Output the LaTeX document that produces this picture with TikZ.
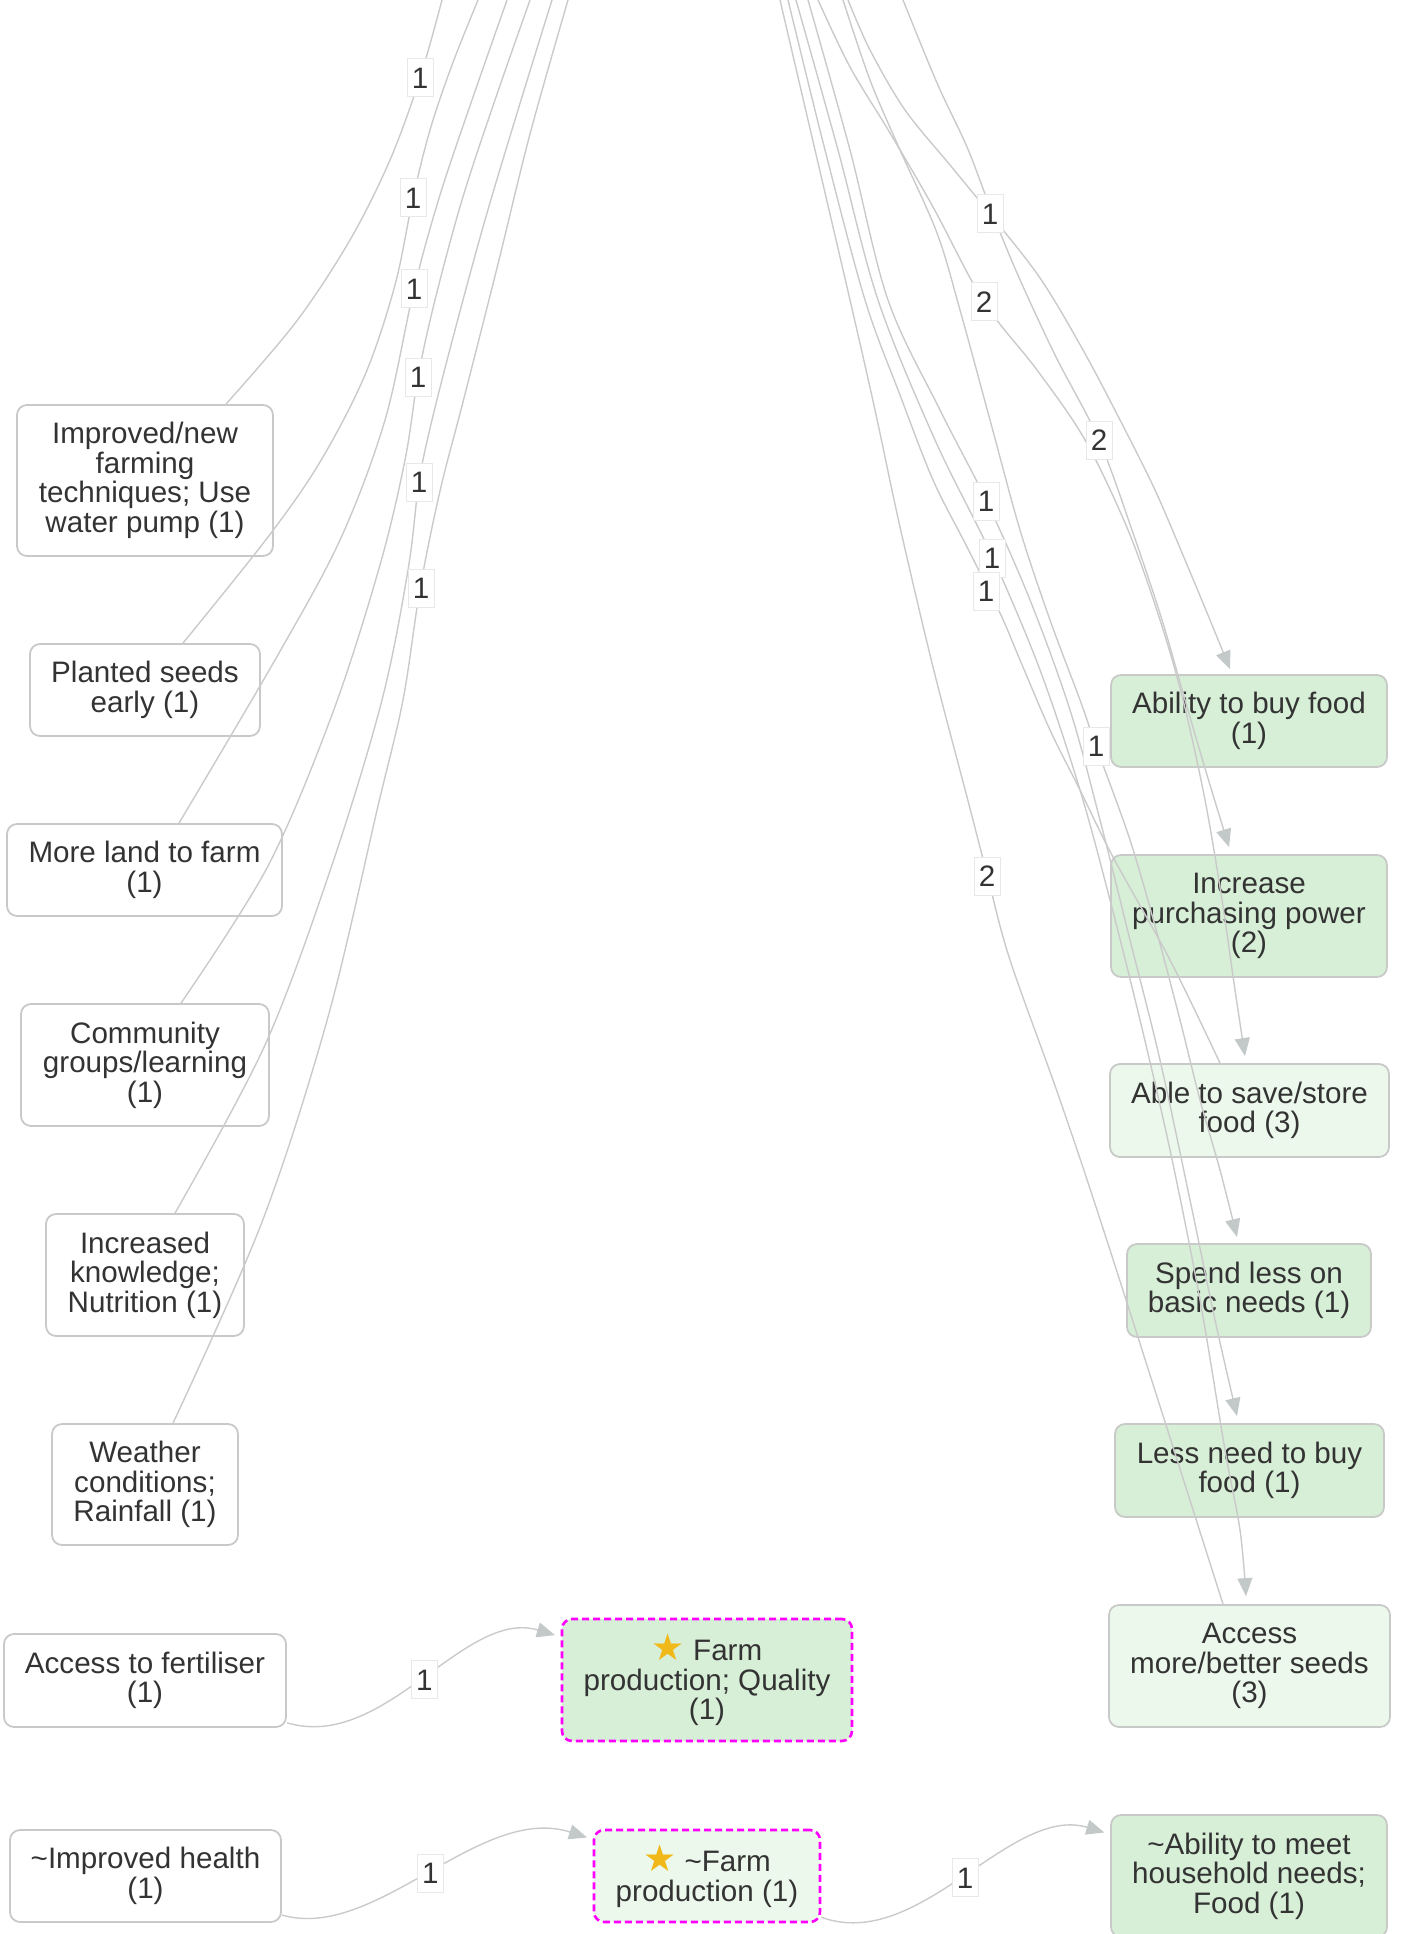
\documentclass[tikz,border=0pt]{standalone}
\usepackage{fontspec}
\setmainfont{Liberation Sans}
\newfontfamily\symfont{DejaVu Sans}
\usetikzlibrary{arrows.meta}
\definecolor{textcol}{RGB}{51,51,51}
\definecolor{boxborder}{RGB}{200,202,200}
\definecolor{greenfill}{RGB}{215,238,215}
\definecolor{lightfill}{RGB}{236,248,236}
\definecolor{edgecol}{RGB}{202,202,202}
\definecolor{arrowcol}{RGB}{195,200,200}
\definecolor{lblborder}{RGB}{232,232,232}
\definecolor{focuscol}{RGB}{255,0,255}
\definecolor{starcol}{RGB}{240,185,25}
\newcommand{\staricon}{{\symfont\fontsize{37pt}{29.6pt}\selectfont\color{starcol}★}}
\begin{document}
\begin{tikzpicture}[x=1pt,y=-1pt,
  basebox/.style={draw=boxborder, line width=1.8pt, rounded corners=10pt, align=center,
    text=textcol, font=\fontsize{29.6pt}{29.6pt}\selectfont, inner sep=0pt},
  plainbox/.style={basebox, fill=white},
  greenbox/.style={basebox, fill=greenfill},
  lightbox/.style={basebox, fill=lightfill},
  focusbox/.style={draw=focuscol, line width=2.6pt, dash pattern=on 7pt off 4pt},
  sz/.style 2 args={minimum width=#1pt, minimum height=#2pt},
  edge/.style={draw=edgecol, line width=1.4pt},
  arr/.style={-{Triangle[length=18pt,width=15pt,color=arrowcol]}},
  lbl/.style={draw=lblborder, line width=1pt, fill=white, text=textcol,
    font=\fontsize{29.6pt}{29.6pt}\selectfont, minimum width=26pt, minimum height=38pt, inner sep=0pt},
  sm/.style={smooth, tension=0.55}
]
\useasboundingbox (0,0) rectangle (1401,1934);
\clip (0,0) rectangle (1401,1934);

% ---------- left column ----------
\node[plainbox, sz={256}{151}] (n1) at (145,480.5) {Improved/new\\farming\\techniques; Use\\water pump (1)};
\node[plainbox, sz={230}{92}] (n2) at (145,690) {Planted seeds\\early (1)};
\node[plainbox, sz={275}{92}] (n3) at (144.5,870) {More land to farm\\(1)};
\node[plainbox, sz={248}{122}] (n4) at (145,1065) {Community\\groups/learning\\(1)};
\node[plainbox, sz={198}{122}] (n5) at (145,1275) {Increased\\knowledge;\\Nutrition (1)};
\node[plainbox, sz={186}{121}] (n6) at (145,1484.5) {Weather\\conditions;\\Rainfall (1)};
\node[plainbox, sz={282}{93}] (fert) at (145,1680.5) {Access to fertiliser\\(1)};
\node[plainbox, sz={271}{92}] (health) at (145.5,1876) {\textasciitilde Improved health\\(1)};

% ---------- middle ----------
\node[greenbox, focusbox, sz={290}{122}] (farm1) at (707,1680) {\staricon\ Farm\\production; Quality\\(1)};
\node[lightbox, focusbox, sz={226}{92}] (farm2) at (707,1876) {\staricon\ \textasciitilde Farm\\production (1)};

% ---------- right column ----------
\node[greenbox, sz={276}{92}] (abf) at (1249,721) {Ability to buy food\\(1)};
\node[greenbox, sz={276}{122}] (ipp) at (1249,916) {Increase\\purchasing power\\(2)};
\node[lightbox, sz={279}{93}] (sav) at (1249.5,1110.5) {Able to save/store\\food (3)};
\node[greenbox, sz={244}{93}] (spl) at (1249,1290.5) {Spend less on\\basic needs (1)};
\node[greenbox, sz={269}{93}] (lnb) at (1249.5,1470.5) {Less need to buy\\food (1)};
\node[lightbox, sz={281}{122}] (acc) at (1249.5,1666) {Access\\more/better seeds\\(3)};
\node[greenbox, sz={276}{122}] (hh) at (1249,1876) {\textasciitilde Ability to meet\\household needs;\\Food (1)};

% ---------- free ends at the top edge ----------
\coordinate (tL1) at (442,0);
\coordinate (tL2) at (478,0);
\coordinate (tL3) at (507,0);
\coordinate (tL4) at (530,0);
\coordinate (tL5) at (552,0);
\coordinate (tL6) at (568,0);
\coordinate (tR1) at (848,0);
\coordinate (tR2) at (903,0);
\coordinate (tR3) at (818,0);
\coordinate (tR4) at (788,0);
\coordinate (tR5) at (843,0);
\coordinate (tR6) at (808,0);
\coordinate (tR7) at (796,0);
\coordinate (tR8) at (780,0);

% ---------- left connectors (going up out of the frame) ----------
\draw[edge] plot[sm] coordinates {([xshift=81pt]n1.north) (296,322) (350,240) (390,160) (420,78) (tL1)};
\draw[edge] plot[sm] coordinates {([xshift=38pt]n2.north) (268,537) (320,462) (365,375) (395,285) (413,198) (430,130) (452,65) (tL2)};
\draw[edge] plot[sm] coordinates {([xshift=34.5pt]n3.north) (275,660) (340,540) (385,420) (414,289) (440,195) (472,100) (tL3)};
\draw[edge] plot[sm] coordinates {([xshift=36pt]n4.north) (268,866) (333,712) (380,565) (405,460) (418,377) (435,300) (462,200) (495,100) (tL4)};
\draw[edge] plot[sm] coordinates {([xshift=30pt]n5.north) (265,1045) (332,865) (382,700) (408,570) (419,482) (432,420) (455,330) (485,220) (518,110) (tL5)};
\draw[edge] plot[sm] coordinates {([xshift=28pt]n6.north) (262,1222) (328,1017) (378,806) (403,700) (420,589) (440,491) (463,402) (497,268) (530,134) (tL6)};

% ---------- right connectors ----------
\draw[edge,arr] plot[sm] coordinates {(tR1) (870,50) (905,110) (950,165) (990,214) (1040,278) (1083,350) (1120,420) (1155,490) (1185,560) (1210,620) ([xshift=-19pt,yshift=5pt]abf.north)};
\draw[edge,arr] plot[sm] coordinates {(tR2) (937,83) (967,147) (990,207) (1017,273) (1055,355) (1099,440) (1133,533) (1162,620) (1185,700) (1207,775) ([xshift=-20pt,yshift=7pt]ipp.north)};
\draw[edge,arr] plot[sm] coordinates {(tR3) (850,67) (890,133) (933,207) (984,302) (1037,370) (1085,440) (1128,530) (1160,620) (1183,700) (1205,800) (1222,900) (1235,990) ([xshift=-4.5pt,yshift=7pt]sav.north)};
\draw[edge] plot[sm] coordinates {([xshift=-29.5pt]sav.north) (1170,960) (1113,857) (1080,790) (1050,730) (1020,660) (1000,613) (966,545) (933,480) (900,395) (865,300) (825,150) (tR4)};
\draw[edge,arr] plot[sm] coordinates {(tR5) (870,80) (900,150) (937,233) (960,310) (990,420) (1020,530) (1050,620) (1080,700) (1096,746) (1130,840) (1157,933) (1180,1020) (1200,1100) (1220,1170) ([xshift=-12pt,yshift=6pt]spl.north)};
\draw[edge,arr] plot[sm] coordinates {(tR6) (850,150) (888,300) (940,410) (986,500) (1030,600) (1070,710) (1100,820) (1130,940) (1160,1060) (1190,1200) (1215,1320) ([xshift=-12.5pt,yshift=7pt]lnb.north)};
\draw[edge,arr] plot[sm] coordinates {(tR7) (838,150) (878,300) (935,440) (992,556) (1040,670) (1080,790) (1110,900) (1140,1020) (1170,1150) (1200,1300) (1225,1450) (1240,1530) ([xshift=-3.5pt,yshift=8pt]acc.north)};
\draw[edge] plot[sm] coordinates {([xshift=-26.5pt]acc.north) (1110,1250) (1060,1100) (1010,960) (988,878) (967,797) (933,667) (900,527) (875,410) (850,300) (815,150) (tR8)};

% ---------- bottom connectors ----------
\draw[edge,arr,shorten >=6pt] (fert) .. controls (385,1752) and (464,1608) .. (farm1) node[lbl,pos=0.5] (lb1) {1};
\draw[edge,arr,shorten >=6pt] (health) .. controls (376,1942) and (480,1803) .. (farm2) node[lbl,pos=0.5] (lb2) {1};
\draw[edge,arr,shorten >=6pt] (farm2) .. controls (920,1953) and (1010,1804) .. (hh) node[lbl,pos=0.5] (lb3) {1};

% ---------- connector labels ----------
\node[lbl] (ll1) at (420,78) {1};
\node[lbl] (ll2) at (413,198) {1};
\node[lbl] (ll3) at (414,289) {1};
\node[lbl] (ll4) at (418,377) {1};
\node[lbl] (ll5) at (419,482) {1};
\node[lbl] (ll6) at (421,588) {1};
\node[lbl] (rl1) at (990,214) {1};
\node[lbl] (rl2) at (984,302) {2};
\node[lbl] (rl3) at (1099,440) {2};
\node[lbl] (rl4) at (986,501) {1};
\node[lbl] (rl5) at (992,558) {1};
\node[lbl] (rl6) at (986,591) {1};
\node[lbl] (rl7) at (1096,746) {1};
\node[lbl] (rl8) at (987,876) {2};
\end{tikzpicture}
\end{document}
